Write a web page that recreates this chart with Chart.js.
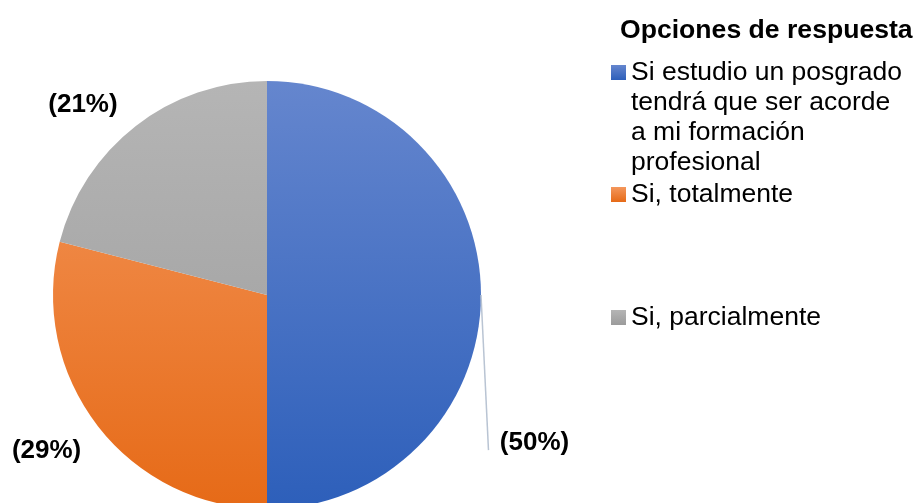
<!DOCTYPE html>
<html>
<head>
<meta charset="utf-8">
<script src="https://cdn.jsdelivr.net/npm/chart.js@4/dist/chart.umd.min.js"></script>
<style>
  html, body { margin: 0; padding: 0; background: #fff; overflow: hidden; }
  #wrap { width: 916px; height: 503px; overflow: hidden; }
</style>
</head>
<body>
<div id="wrap"><canvas id="pie" width="916" height="600"></canvas></div>
<script>
// Respuestas (porcentaje)
var legendTitle = 'Opciones de respuesta';
var labels = [
  'Si estudio un posgrado tendrá que ser acorde a mi formación profesional',
  'Si, totalmente',
  'Si, parcialmente'
];
// legend text as wrapped in the original
var legendLines = [
  ['Si estudio un posgrado', 'tendrá que ser acorde', 'a mi formación', 'profesional'],
  ['Si, totalmente'],
  ['Si, parcialmente']
];
var values = [50, 29, 21];
var valueText = ['(50%)', '(29%)', '(21%)'];

// top / bottom colours of the vertical gradient per slice
var topColors = ['#6586CE', '#F4975C', '#B5B5B5'];
var botColors = ['#2D5FBA', '#E66A17', '#9B9B9B'];

function sliceFill(ctx) {
  var area = ctx.chart.chartArea;
  if (!area) return topColors[ctx.dataIndex];
  var g = ctx.chart.ctx.createLinearGradient(0, area.top, 0, area.bottom);
  g.addColorStop(0, topColors[ctx.dataIndex]);
  g.addColorStop(1, botColors[ctx.dataIndex]);
  return g;
}

var FONT = '"Liberation Sans", Arial, sans-serif';

// data labels placed around the pie, relative to its centre and radius
var labelSpots = [[1.25, 0.69], [-1.03, 0.73], [-0.86, -0.89]];
var leaderLine = { from: [1.0, 0.0], to: [1.035, 0.725] };

var piePlugin = {
  id: 'pieDecor',
  afterDraw: function(chart) {
    var c = chart.ctx;
    var arc = chart.getDatasetMeta(0).data[0];
    var cx = arc.x, cy = arc.y, r = arc.outerRadius;

    // leader line for the big slice
    c.save();
    c.strokeStyle = '#B9C4D3';
    c.lineWidth = 1.5;
    c.beginPath();
    c.moveTo(cx + leaderLine.from[0] * r, cy + leaderLine.from[1] * r);
    c.lineTo(cx + leaderLine.to[0] * r, cy + leaderLine.to[1] * r);
    c.stroke();

    c.fillStyle = '#000';
    c.font = 'bold 26px ' + FONT;
    c.textAlign = 'center';
    c.textBaseline = 'middle';
    valueText.forEach(function(t, i) {
      c.fillText(t, cx + labelSpots[i][0] * r, cy + labelSpots[i][1] * r);
    });

    // legend
    c.textAlign = 'left';
    c.textBaseline = 'alphabetic';
    c.font = 'bold 26.6px ' + FONT;
    c.fillText(legendTitle, 620, 38);

    c.font = '26.5px ' + FONT;
    var itemTops = [80, 202, 325];
    legendLines.forEach(function(lines, i) {
      var base = itemTops[i];
      var g = c.createLinearGradient(0, base - 15, 0, base);
      g.addColorStop(0, topColors[i]);
      g.addColorStop(1, botColors[i]);
      c.fillStyle = g;
      c.fillRect(611, base - 15, 15, 15);
      c.fillStyle = '#000';
      lines.forEach(function(line, k) {
        c.fillText(line, 631, base + k * 30);
      });
    });
    c.restore();
  }
};

new Chart(document.getElementById('pie'), {
  type: 'pie',
  data: {
    labels: labels,
    datasets: [{
      data: values,
      backgroundColor: sliceFill,
      borderWidth: 0
    }]
  },
  options: {
    responsive: false,
    devicePixelRatio: 1,
    animation: false,
    layout: { padding: { left: 53, top: 81, right: 435, bottom: 91 } },
    plugins: {
      legend: { display: false },
      tooltip: { enabled: false }
    }
  },
  plugins: [piePlugin]
});
</script>
</body>
</html>
